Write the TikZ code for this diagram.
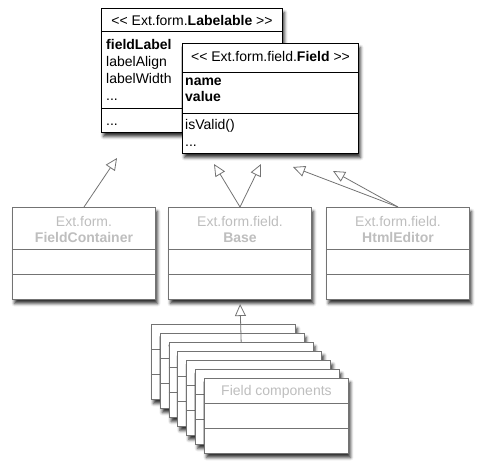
\documentclass[tikz,border=0pt]{standalone}
\usepackage{fontspec}
\setmainfont{Liberation Sans}
\usetikzlibrary{arrows.meta,shadows.blur}
\definecolor{boxgray}{RGB}{115,115,115}
\definecolor{textgray}{RGB}{190,190,190}
\tikzset{
  classbox/.style={draw=boxgray, line width=1pt, fill=white, anchor=north west, inner sep=0pt,
    blur shadow={shadow xshift=2pt, shadow yshift=-4pt, shadow blur radius=3pt, shadow opacity=80}},
  mixinbox/.style={classbox, draw=black},
  compartment/.style={anchor=base west, inner sep=0pt, text width=165pt, align=left},
  inherits/.style={draw=boxgray, line width=.8pt, -{Triangle[fill=white, length=12pt, width=11pt]}}
}
\begin{document}
\begin{tikzpicture}[x=1pt,y=-1pt,font=\fontsize{14pt}{17pt}\selectfont]
\useasboundingbox (0,0) rectangle (481,468);

\node[mixinbox, minimum width=181pt, minimum height=124pt] (labelable) at (101,8) {};
\node[anchor=base, inner sep=0pt] (labelable-name) at ([yshift=-18pt]labelable.north) {<{}< Ext.form.\textbf{Labelable} >{}>};
\draw[line width=1pt] ([yshift=-24pt]labelable.north west) -- ([yshift=-24pt]labelable.north east)
  ([yshift=-100pt]labelable.north west) -- ([yshift=-100pt]labelable.north east);
\node[compartment] (labelable-attrs) at ([xshift=5pt,yshift=-42pt]labelable.north west) {\textbf{fieldLabel}\\labelAlign\\labelWidth\\...};
\node[compartment] (labelable-ops) at ([xshift=5pt,yshift=-117pt]labelable.north west) {...};

\node[mixinbox, minimum width=176pt, minimum height=110pt] (field) at (182,43) {};
\node[anchor=base, inner sep=0pt] (field-name) at ([yshift=-19pt]field.north) {<{}< Ext.form.field.\textbf{Field} >{}>};
\draw[line width=1pt] ([yshift=-30pt]field.north west) -- ([yshift=-30pt]field.north east)
  ([yshift=-70pt]field.north west) -- ([yshift=-70pt]field.north east);
\node[compartment] (field-attrs) at ([xshift=3pt,yshift=-42pt]field.north west) {\textbf{name}\\\textbf{value}};
\node[compartment] (field-ops) at ([xshift=3pt,yshift=-86pt]field.north west) {isValid()\\...};

\foreach \name/\x/\pkg/\cls in {container/12/Ext.form./FieldContainer, base/168/Ext.form.field./Base, editor/326/Ext.form.field./HtmlEditor} {
  \node[classbox, minimum width=143pt, minimum height=92pt] (\name) at (\x,207) {};
  \node[textgray, anchor=base, inner sep=0pt] (\name-pkg) at ([yshift=-19pt]\name.north) {\pkg};
  \node[textgray, anchor=base, inner sep=0pt] (\name-cls) at ([yshift=-35pt]\name.north) {\textbf{\cls}};
  \draw[boxgray, line width=1pt] ([yshift=-42pt]\name.north west) -- ([yshift=-42pt]\name.north east)
    ([yshift=-67pt]\name.north west) -- ([yshift=-67pt]\name.north east);
}

\coordinate (container-tip) at (117,158);
\coordinate (base-tip1) at (214,164);
\coordinate (base-tip2) at (261,164);
\coordinate (editor-tip1) at (293,167);
\coordinate (editor-tip2) at (333,171);
\draw[inherits] (container.north) -- (container-tip);
\draw[inherits] (base.north) -- (base-tip1);
\draw[inherits] (base.north) -- (base-tip2);
\draw[inherits] (editor.north) -- (editor-tip1);
\draw[inherits] (editor.north) -- (editor-tip2);

\foreach \i in {0,...,6} {
  \node[classbox, minimum width=144pt, minimum height=75pt] (card\i) at (151+\i*8.83,324+\i*9) {};
  \draw[boxgray, line width=1pt] ([yshift=-25pt]card\i.north west) -- ([yshift=-25pt]card\i.north east)
    ([yshift=-50pt]card\i.north west) -- ([yshift=-50pt]card\i.north east);
}
\node[textgray, anchor=base, inner sep=0pt] (card-name) at ([yshift=-17pt]card6.north) {Field components};
\draw[inherits, shorten >=4pt] (card2.north) -- (base.south);
\end{tikzpicture}
\end{document}
